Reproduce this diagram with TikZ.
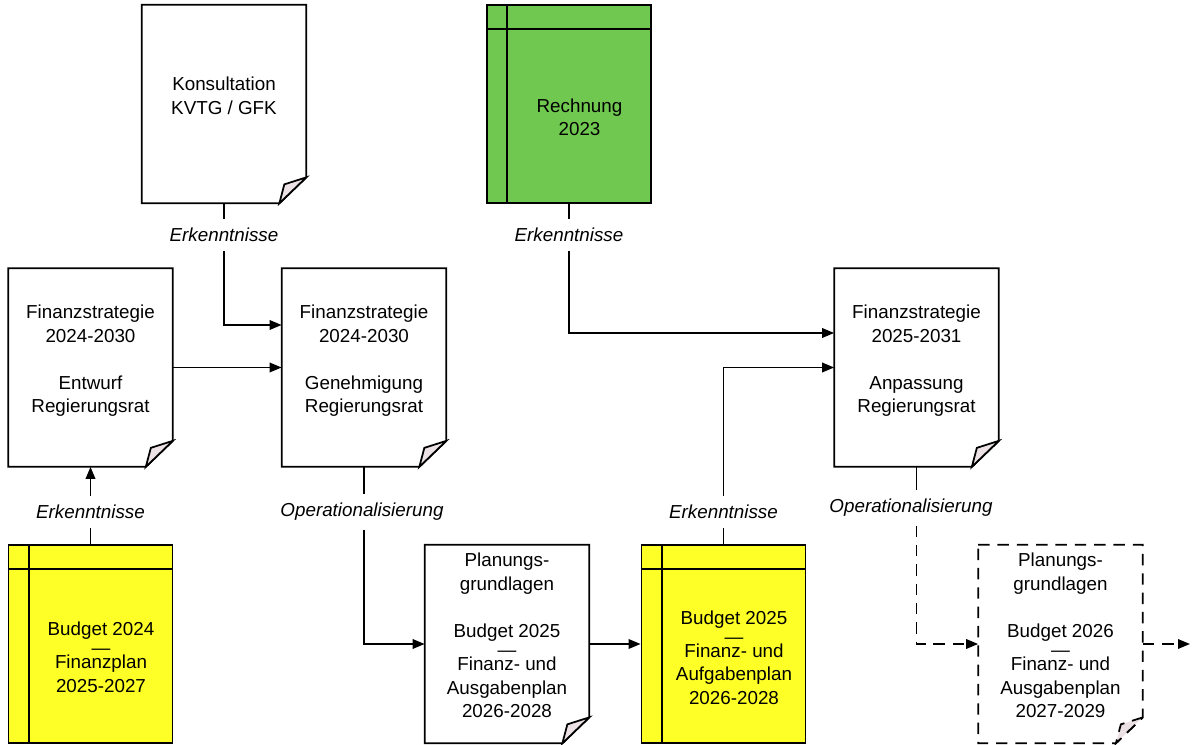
\documentclass[tikz,border=0pt]{standalone}
\usepackage{fontspec}
\setmainfont{Liberation Sans}
\usepackage{xcolor}
\usepackage{tikz}
\usetikzlibrary{arrows.meta, positioning, calc}

\definecolor{bookyellow}{RGB}{255,255,40}
\definecolor{bookgreen}{RGB}{112,200,80}
\definecolor{foldgray}{RGB}{236,226,229}

% page outline with curled corner
\newcommand{\docframe}[2][]{%
  \draw[line width=1pt, #1] (#2.north west) -- (#2.north east) -- ([yshift=0.52cm]#2.south east)
    -- ([xshift=-0.54cm]#2.south east) -- (#2.south west) -- cycle;
  \filldraw[line width=1pt, fill=foldgray, #1] ([yshift=0.52cm]#2.south east)
    -- ($(#2.south east)+(-0.44,0.38)$) -- ([xshift=-0.54cm]#2.south east) -- cycle;
}
% binder lines of a book
\newcommand{\bookframe}[1]{%
  \draw[line width=1pt] ([xshift=0.42cm]#1.north west) -- ([xshift=0.42cm]#1.south west);
  \draw[line width=1pt] ([yshift=-0.5cm]#1.north west) -- ([yshift=-0.5cm]#1.north east);
}

\begin{document}
\begin{tikzpicture}[
    font=\fontsize{10.7}{13.4}\selectfont,
    doc/.style={rectangle, minimum width=3.28cm, minimum height=3.96cm, align=center, text depth=0.34cm},
    book/.style={rectangle, draw, line width=1pt, fill=#1, minimum width=3.28cm, minimum height=3.96cm},
    booktext/.style={align=center, xshift=0.21cm, yshift=-0.27cm},
    lbl/.style={font=\fontsize{10.7}{13.4}\selectfont\itshape, inner xsep=0.1cm, inner ysep=0.17cm},
    line/.style={line width=1pt},
    arrow/.style={-{Triangle[length=0.24cm, width=0.19cm]}, line width=1pt},
    dashline/.style={dash pattern=on 6.5pt off 4.5pt}
  ]
    \useasboundingbox (0,0) rectangle (23.92,-14.9);

    \node[doc] (kons) at (4.48, -2.08) {Konsultation\\KVTG / GFK};
    \node[book=bookgreen, label={[booktext]center:{Rechnung\\2023}}] (rech) at (11.38, -2.08) {};

    \node[doc] (fsE) at (1.81, -7.35) {Finanzstrategie\\2024-2030\\[\baselineskip]Entwurf\\Regierungsrat};
    \node[doc] (fsG) at (7.28, -7.35) {Finanzstrategie\\2024-2030\\[\baselineskip]Genehmigung\\Regierungsrat};
    \node[doc] (fsA) at (18.33, -7.35) {Finanzstrategie\\2025-2031\\[\baselineskip]Anpassung\\Regierungsrat};

    \node[book=bookyellow, label={[booktext]center:{Budget 2024\\[-2.6pt]—\\[-5.4pt]Finanzplan\\2025-2027}}] (b24) at (1.81, -12.88) {};
    \node[doc] (pg25) at (10.14, -12.88) {Planungs-\\grundlagen\\[\baselineskip]Budget 2025\\[-2.6pt]—\\[-5.4pt]Finanz- und\\Ausgabenplan\\2026-2028};
    \node[book=bookyellow, label={[booktext]center:{Budget 2025\\[-2.6pt]—\\[-5.4pt]Finanz- und\\Aufgabenplan\\2026-2028}}] (b25) at (14.47, -12.88) {};
    \node[doc] (pg26) at (21.21, -12.88) {Planungs-\\grundlagen\\[\baselineskip]Budget 2026\\[-2.6pt]—\\[-5.4pt]Finanz- und\\Ausgabenplan\\2027-2029};
    \coordinate (out) at (23.8, -12.88);

    \docframe{kons}
    \docframe{fsE}
    \docframe{fsG}
    \docframe{fsA}
    \docframe{pg25}
    \docframe[dashline]{pg26}
    \bookframe{rech}
    \bookframe{b24}
    \bookframe{b25}

    % labels on the connectors
    \node[lbl] (lk1) at (4.48, -4.70) {Erkenntnisse};
    \node[lbl] (lk2) at (11.38, -4.70) {Erkenntnisse};
    \node[lbl] (lk3) at (1.81, -10.24) {Erkenntnisse};
    \node[lbl] (lo1) at (7.24, -10.24) {Operationalisierung};
    \node[lbl] (lk4) at (14.47, -10.24) {Erkenntnisse};
    \node[lbl] (lo2) at (18.22, -10.16) {Operationalisierung};

    % connectors
    \draw[line] (kons) -- (lk1);
    \draw[arrow] (lk1) |- ([yshift=0.85cm]fsG.west);
    \draw[line] (rech) -- (lk2);
    \draw[arrow] (lk2) |- ([yshift=0.69cm]fsA.west);
    \draw[arrow] (fsE) -- (fsG);
    \draw[line] (b24) -- (lk3);
    \draw[arrow] (lk3) -- (fsE);
    \draw[line] (fsG) -- (fsG |- lo1.north);
    \draw[arrow] (fsG |- lo1.south) |- (pg25.west);
    \draw[arrow] (pg25) -- (b25);
    \draw[line] (b25) -- (lk4);
    \draw[arrow] (lk4) |- (fsA.west);
    \draw[line] (fsA) -- (fsA |- lo2.north);
    \draw[arrow, dashline] (fsA |- lo2.south) |- (pg26.west);
    \draw[arrow, dashline] (pg26) -- (out);
  \end{tikzpicture}
\end{document}
